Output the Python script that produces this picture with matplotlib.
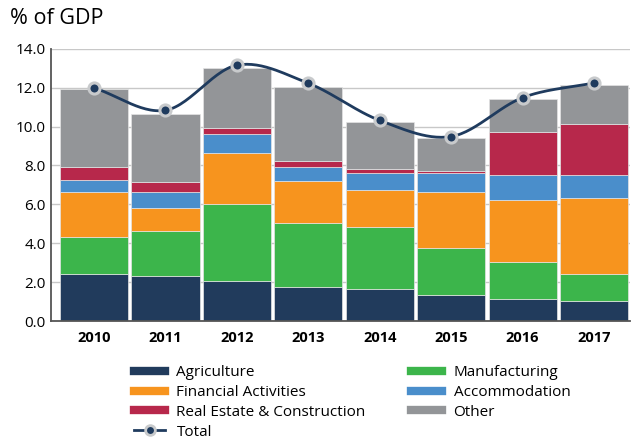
import matplotlib.pyplot as plt
import numpy as np
from matplotlib.lines import Line2D

plt.rcParams['font.family'] = ['Open Sans', 'DejaVu Sans']

years = ['2010', '2011', '2012', '2013', '2014', '2015', '2016', '2017']

# segment heights
agriculture = [2.40, 2.29, 2.07, 1.76, 1.65, 1.34, 1.14, 1.03]
manufacturing = [1.91, 2.33, 3.93, 3.30, 3.21, 2.43, 1.91, 1.38]
financial = [2.32, 1.17, 2.65, 2.12, 1.89, 2.88, 3.17, 3.92]
accommodation = [0.64, 0.86, 0.95, 0.75, 0.87, 0.95, 1.27, 1.16]
real_estate = [0.64, 0.52, 0.31, 0.29, 0.18, 0.10, 2.23, 2.64]
other = [4.03, 3.50, 3.08, 3.82, 2.45, 1.69, 1.69, 2.01]
total = [11.99, 10.84, 13.16, 12.23, 10.32, 9.49, 11.49, 12.25]

series = [
    ('Agriculture', agriculture, '#213b5c'),
    ('Manufacturing', manufacturing, '#3cb54b'),
    ('Financial Activities', financial, '#f7941e'),
    ('Accommodation', accommodation, '#4a8ecb'),
    ('Real Estate & Construction', real_estate, '#b7284b'),
    ('Other', other, '#939598'),
]
navy = '#1f3b5e'

fig = plt.figure(figsize=(6.4, 4.44), dpi=100)
ax = fig.add_axes([0.08, 0.277, 0.904, 0.613])

x = np.arange(len(years))
bottom = np.zeros(len(years))
for name, vals, col in series:
    ax.bar(x, vals, bottom=bottom, width=0.955, color=col, edgecolor='#e4e4e4',
           linewidth=0.5, zorder=2)
    bottom += np.array(vals)

# smooth curve through the totals (cubic hermite, catmull-rom tangents)
t = np.array(total)
m = np.gradient(t)
xs, ys = [], []
for i in range(len(t) - 1):
    s = np.linspace(0, 1, 30)
    h00 = 2 * s**3 - 3 * s**2 + 1
    h10 = s**3 - 2 * s**2 + s
    h01 = -2 * s**3 + 3 * s**2
    h11 = s**3 - s**2
    xs.extend(i + s)
    ys.extend(h00 * t[i] + h10 * m[i] + h01 * t[i + 1] + h11 * m[i + 1])
ax.plot(xs, ys, color=navy, lw=2, zorder=3)
ax.plot(x, total, 'o', color=navy, ms=8, mec='#c8cacc', mew=2.2, zorder=4)

ax.set_xlim(-0.6, 7.5)
ax.set_ylim(0, 14)
ax.set_yticks(np.arange(0, 14.1, 2))
ax.set_yticklabels(['%.1f' % v for v in np.arange(0, 14.1, 2)], fontsize=11)
ax.set_xticks(x)
ax.set_xticklabels(years, fontsize=10.5, fontweight='bold')
ax.tick_params(length=0)
ax.tick_params(axis='x', pad=7)
ax.tick_params(axis='y', pad=4)
ax.grid(axis='y', color='#c8c8c8', lw=1, zorder=0)
for sp in ['top', 'right']:
    ax.spines[sp].set_visible(False)
ax.spines['left'].set_color('#555555')
ax.spines['bottom'].set_color('#555555')
ax.spines['left'].set_linewidth(1.3)
ax.spines['bottom'].set_linewidth(1.3)

fig.text(0.016, 0.958, '% of GDP', fontsize=15.5, va='center', ha='left')

handles = {name: Line2D([], [], color=col, lw=6) for name, _, col in series}
handles['Total'] = Line2D([], [], color=navy, lw=2, marker='o', ms=7,
                          mec='#c8cacc', mew=2)
order = ['Agriculture', 'Financial Activities', 'Real Estate & Construction', 'Total',
         'Manufacturing', 'Accommodation', 'Other']
fig.legend([handles[k] for k in order], order, loc='upper left',
           bbox_to_anchor=(0.21, 0.178), ncol=2, frameon=False, fontsize=11,
           handlelength=2.0, handletextpad=0.75, columnspacing=3.0,
           labelspacing=0.32, borderpad=0, borderaxespad=0)

fig.savefig('out.png', dpi=100)
